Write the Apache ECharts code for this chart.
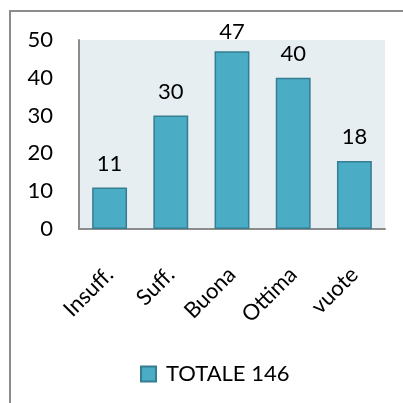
<!DOCTYPE html>
<html>
<head>
<meta charset="utf-8">
<script src="https://cdn.jsdelivr.net/npm/echarts@6/dist/echarts.min.js"></script>
<style>
  html, body { margin: 0; padding: 0; background: #fff; }
  #chart { width: 403px; height: 403px; }
</style>
</head>
<body>
<div id="chart"></div>
<script>
// dati
var categories = ['Insuff.', 'Suff.', 'Buona', 'Ottima', 'vuote'];
var values = [11, 30, 47, 40, 18];
var seriesName = 'TOTALE 146';

var font = 'Lato, "Open Sans", sans-serif';
var myChart = echarts.init(document.getElementById('chart'));

// l'etichetta del valore più alto sta più vicina alla barra (non c'è spazio sopra)
var maxVal = Math.max.apply(null, values);
var barData = values.map(function (v) {
  return v === maxVal ? { value: v, label: { distance: 8 } } : v;
});

myChart.setOption({
  animation: false,
  backgroundColor: '#fff',
  textStyle: { fontFamily: font },
  grid: {
    left: 79, top: 40, right: 18, bottom: 174,
    show: true, backgroundColor: '#E6EEF2', borderWidth: 0
  },
  legend: {
    top: 358, left: 135,
    itemWidth: 15, itemHeight: 15, itemGap: 6,
    textStyle: { fontSize: 22, color: '#000', fontFamily: font, padding: [0, 0, 0, 5] },
    data: [{ name: seriesName, icon: 'rect' }]
  },
  xAxis: {
    type: 'category',
    data: categories,
    axisLine: { lineStyle: { color: '#8c8c8c', width: 2 } },
    axisTick: { show: false },
    axisLabel: { rotate: 45, margin: 42, fontSize: 22, color: '#000', fontFamily: font }
  },
  yAxis: {
    type: 'value',
    min: 0, max: 50, interval: 10,
    axisLine: { show: true, lineStyle: { color: '#8c8c8c', width: 2 } },
    axisTick: { show: false },
    splitLine: { show: false },
    axisLabel: { margin: 26, fontSize: 22, color: '#000', fontFamily: font }
  },
  series: [{
    name: seriesName,
    type: 'bar',
    data: barData,
    barWidth: '57%',
    itemStyle: { color: '#4BACC6', borderColor: '#357D91', borderWidth: 1.5 },
    label: { show: true, position: 'top', distance: 13, fontSize: 22, color: '#000', fontFamily: font }
  }],
  graphic: [
    { type: 'line', shape: { x1: 10, y1: 11, x2: 10, y2: 403 }, style: { stroke: '#8c8c8c', lineWidth: 2 } },
    { type: 'line', shape: { x1: 9, y1: 11, x2: 403, y2: 11 }, style: { stroke: '#8c8c8c', lineWidth: 2 } }
  ]
});
</script>
</body>
</html>
